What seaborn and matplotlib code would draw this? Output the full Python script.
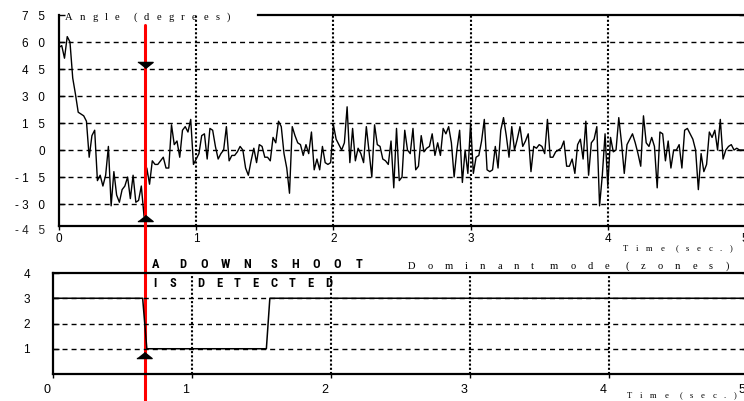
import numpy as np
import pandas as pd
import seaborn as sns
import matplotlib
matplotlib.use("Agg")
import matplotlib.pyplot as plt
from matplotlib.lines import Line2D
from matplotlib import transforms
from matplotlib.textpath import TextToPath
from matplotlib.font_manager import FontProperties

# ---------------- data ----------------
angle_deg = [
    57, 58, 51, 63, 60, 40, 31, 21, 20, 19,
    16, -4, 8, 11, -17, -14, -20, -14, 2, -31,
    -12, -25, -29, -22, -20, -15, -27, -14, -29, -28,
    -20, -37, -10, -19, -6, -8, -8, -6, -4, -10,
    -10, 14, 3, 5, -4, 11, 13, 10, 17, -8,
    -5, -2, 8, 9, -5, 12, 11, 2, -5, -2,
    0, 13, -6, -3, -3, -1, 2, 0, -10, -14,
    -6, 1, -7, 3, 2, -4, -4, -6, 7, 4,
    16, 13, -2, -10, -24, 13, 8, 4, 3, -3,
    3, -2, 10, -11, -5, -11, 2, -7, -8, -7,
    14, 6, 3, 0, 4, 24, -7, 12, -6, 1,
    -2, -7, 13, -1, -15, 14, 3, 2, -5, -6,
    -8, 5, -21, 12, -17, -15, 11, 0, -2, 12,
    -11, -9, 8, -1, 1, 2, 9, -3, 4, -3,
    12, 9, 13, 4, -15, 0, 11, -18, 0, -13,
    15, -13, -4, -3, 5, 17, -11, -12, -11, 2,
    -10, 11, 18, 8, -4, 13, 0, 6, 13, 2,
    5, 9, -12, 2, 1, 3, 2, -2, 17, -4,
    -4, -1, 0, 1, 5, -9, -9, -5, -13, 3,
    6, -5, 16, -14, 4, 6, 13, -31, -14, 9,
    -20, 7, -1, 0, 18, 4, -13, 3, 6, 9,
    4, -2, -9, 19, 4, 2, 7, 2, -21, 10,
    9, -6, 5, -10, 0, 0, 3, -10, 11, 12,
    9, 6, 0, -22, -2, -12, -8, 10, 7, 11,
    0, 17, -5, 0, 2, 3, 0, 1, 0, 0,
    0,
]
sample_dt = 0.02  # seconds between samples

mode_time = [0.0, 0.645, 0.675, 1.535, 1.56, 5.0]
mode_zone = [3, 3, 1, 1, 3, 3]

detect_time_top = 0.63
detect_time_bottom = 0.655
marker_top_high = 47
marker_top_low = -38
marker_bottom = 0.77

angle_ticks = [75, 60, 45, 30, 15, 0, -15, -30]
angle_bottom_label = -45
zone_ticks = [1, 2, 3, 4]
time_ticks = [0, 1, 2, 3, 4, 5]

title_top = "Angle (degrees)"
title_bottom = "Dominant mode (zones)"
xlabel = "Time (sec.)"
note_lines = ["A DOWN SHOOT", "IS DETECTED"]

# ---------------- style ----------------
sns.set_style("white")
plt.rcParams["font.family"] = ["Liberation Sans", "DejaVu Sans"]

W, H, DPI = 744, 401, 100
fig = plt.figure(figsize=(W / DPI, H / DPI), dpi=DPI)

ax1 = fig.add_axes([59 / W, (H - 226) / H, 686 / W, 211 / H])
ax2 = fig.add_axes([53 / W, (H - 374) / H, 695 / W, 101 / H])
ax2.set_facecolor("none")

px = 72.0 / DPI  # points per pixel


def spaced_number(v):
    s = str(v)
    out = ""
    for i, ch in enumerate(s):
        out += ch
        if i < len(s) - 1:
            out += " " if ch == "-" else "   "
    return out


_t2p = TextToPath()


def tracked_text(x, y, s, size, family, tracking_px, space_px, transform,
                 weight="normal", stretch="normal"):
    """Letter-spaced text: glyph advance + fixed tracking."""
    fp = FontProperties(family=family, size=size, weight=weight, stretch=stretch)
    dx = 0.0
    for ch in s:
        if ch == " ":
            dx += space_px * px
            continue
        w, h, d = _t2p.get_text_width_height_descent(ch, fp, ismath=False)
        tr = transforms.offset_copy(transform, fig=fig, x=dx, y=0, units="points")
        fig.text(x, y, ch, fontproperties=fp, transform=tr, ha="left",
                 va="baseline", color="black")
        dx += w + tracking_px * px


def pitched_text(x, y, s, size, family, pitch_px, space_px, transform,
                 weight="normal", stretch="normal"):
    """Letter-spaced text with glyph centres on a fixed pitch."""
    fp = FontProperties(family=family, size=size, weight=weight, stretch=stretch)
    dx = 0.0
    for ch in s:
        if ch == " ":
            dx += space_px * px
            continue
        tr = transforms.offset_copy(transform, fig=fig, x=dx, y=0, units="points")
        fig.text(x, y, ch, fontproperties=fp, transform=tr, ha="center",
                 va="baseline", color="black")
        dx += pitch_px * px


# ---------------- top panel ----------------
sig = pd.DataFrame({"t": np.arange(len(angle_deg)) * sample_dt, "angle": angle_deg})
sns.lineplot(data=sig, x="t", y="angle", ax=ax1, color="black", lw=1.0,
             estimator=None, sort=False, zorder=2)

ax1.set_xlim(0, 5)
ax1.set_ylim(-42.2, 75)
for v in angle_ticks[1:]:
    ax1.axhline(v, color="black", lw=1.0, ls=(0, (3.6, 2.9)), zorder=1)
for t in time_ticks[1:-1]:
    ax1.axvline(t, color="black", lw=1.5, ls=(0, (1, 1)), zorder=1)

ax1.set_yticks(angle_ticks)
ax1.set_yticklabels([spaced_number(v) for v in angle_ticks])
ax1.set_xticks(time_ticks)
ax1.set_xticklabels([str(t) for t in time_ticks])
ax1.text(0, angle_bottom_label, spaced_number(angle_bottom_label),
         transform=transforms.blended_transform_factory(
             transforms.offset_copy(ax1.transAxes, fig=fig, x=-14 * px, units="points"),
             ax1.transData),
         ha="right", va="center", fontsize=8.5, clip_on=False)
ax1.tick_params(axis="y", direction="in", length=4, width=1, left=True, right=True,
                pad=14 * px, labelsize=8.5, colors="black")
ax1.tick_params(axis="x", direction="out", length=3, width=1, bottom=True,
                pad=2, labelsize=8.5, colors="black")
ax1.set_xlabel("")
ax1.set_ylabel("")
for name in ["left", "bottom", "top"]:
    ax1.spines[name].set_color("black")
    ax1.spines[name].set_linewidth(1.6)
ax1.spines["right"].set_visible(False)
ax1.spines["top"].set_bounds(1.45, 5)

ax1.plot([detect_time_top], [marker_top_high], ls="none", color="black",
         marker=[(-1, 0.4), (1, 0.4), (0, -0.4)], ms=11, zorder=6, clip_on=False)
ax1.plot([detect_time_top], [marker_top_low], ls="none", color="black",
         marker=[(-1, -0.4), (1, -0.4), (0, 0.4)], ms=11, zorder=6, clip_on=False)

red = Line2D([detect_time_top, detect_time_top], [0, 1 - 25 / H], color="#ff0000",
             lw=2.2, zorder=4, clip_on=False,
             transform=transforms.blended_transform_factory(ax1.transData, fig.transFigure))
ax1.add_artist(red)

# ---------------- bottom panel ----------------
mode = pd.DataFrame({"t": mode_time, "zone": mode_zone})
sns.lineplot(data=mode, x="t", y="zone", ax=ax2, color="black", lw=1.1,
             estimator=None, sort=False, zorder=2)
ax2.set_xlim(0, 5)
ax2.set_ylim(0, 4)
for v in zone_ticks[:-1]:
    ax2.axhline(v, color="black", lw=1.0, ls=(0, (3.6, 2.9)), zorder=1)
for t in time_ticks[1:-1]:
    ax2.axvline(t, color="black", lw=1.5, ls=(0, (1, 1)), zorder=1)
ax2.set_yticks(zone_ticks)
ax2.set_yticklabels([str(v) for v in zone_ticks])
ax2.set_xticks(time_ticks)
ax2.set_xticklabels([str(t) for t in time_ticks])
ax2.tick_params(axis="y", direction="in", length=4, width=1, left=True, right=True,
                pad=23 * px, labelsize=8.5, colors="black")
ax2.tick_params(axis="x", direction="out", length=3, width=1, bottom=True,
                pad=4, labelsize=9, colors="black")
ax2.set_xlabel("")
ax2.set_ylabel("")
for name in ["left", "bottom", "top"]:
    ax2.spines[name].set_color("black")
    ax2.spines[name].set_linewidth(1.6)
ax2.spines["right"].set_visible(False)
shift = transforms.ScaledTranslation(-6 / DPI, 0, fig.dpi_scale_trans)
for lbl in ax2.get_xticklabels():
    lbl.set_transform(lbl.get_transform() + shift)

ax2.plot([detect_time_bottom], [marker_bottom], ls="none", color="black",
         marker=[(-1, -0.4), (1, -0.4), (0, 0.4)], ms=11, zorder=6, clip_on=False)

# ---------------- texts ----------------
ident = fig.transFigure
serif = ["Liberation Serif", "DejaVu Serif"]
tracked_text(65 / W, 1 - 20 / H, title_top, 7.6, serif, 7.2, 6.5, ident)
tracked_text(408 / W, 1 - 269 / H, title_bottom, 7.6, serif, 12.0, 4, ident)
tracked_text(623 / W, 1 - 251 / H, xlabel, 6.2, serif, 7.6, 4, ident)
tracked_text(627 / W, 1 - 398 / H, xlabel, 6.2, serif, 7.6, 4, ident)

narrow = ["Roboto Condensed", "Liberation Sans Narrow", "DejaVu Sans"]
pitched_text(156 / W, 1 - 268 / H, note_lines[0], 9, narrow, 21.3, 5.5, ident,
             weight="bold", stretch="condensed")
pitched_text(155 / W, 1 - 287 / H, note_lines[1], 9, narrow, 18.3, 9, ident,
             weight="bold", stretch="condensed")

fig.savefig("out.png", dpi=DPI, facecolor="white")
